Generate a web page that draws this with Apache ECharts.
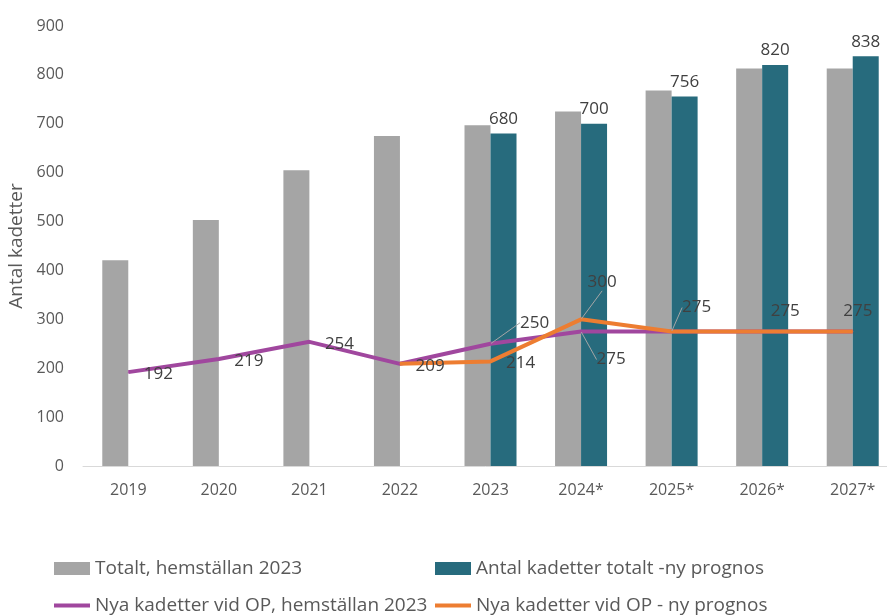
<!DOCTYPE html>
<html>
<head>
<meta charset="utf-8">
<script src="https://cdn.jsdelivr.net/npm/echarts@6/dist/echarts.min.js"></script>
<style>
  html, body { margin: 0; padding: 0; background: #fff; }
  #chart { width: 887px; height: 615px; }
</style>
</head>
<body>
<div id="chart"></div>
<script>
// kategorier och värden
var years = ['2019', '2020', '2021', '2022', '2023', '2024*', '2025*', '2026*', '2027*'];
var totaltHemstallan = [421, 503, 605, 675, 697, 725, 768, 813, 813];
var totaltNyPrognos = [null, null, null, null, 680, 700, 756, 820, 838];
var nyaHemstallan = [192, 219, 254, 209, 250, 275, 275, 275, 275];
var nyaNyPrognos = [null, null, null, 209, 214, 300, 275, 275, 275];
var yTicks = [0, 100, 200, 300, 400, 500, 600, 700, 800, 900];

var FONT = 'Open Sans';
var textColor = '#595959';
var labelColor = '#404040';

// etikettförflyttning (dx, dy) och vilka som har hänvisningslinje
var defaultMove = [10, 2];
var purpleMoves = { 4: [24, -21], 5: [10, 28] };
var purpleLeaders = [4, 5];
var orangeMoves = { 5: [1, -37], 6: [5, -24], 7: [3, -20], 8: [-15, -20] };
var orangeLeaders = [5, 6];

function lineData(values, hidden, leaders) {
    return values.map(function (v, i) {
        if (v == null) return null;
        var item = { value: v };
        if (hidden.indexOf(i) >= 0) item.label = { show: false };
        if (leaders.indexOf(i) >= 0) item.labelLine = { show: true };
        return item;
    });
}

function mover(moves) {
    return function (p) {
        var m = moves[p.dataIndex] || defaultMove;
        return { dx: m[0], dy: m[1] };
    };
}

var myChart = echarts.init(document.getElementById('chart'));

function legendItem(name, left, top, lineIcon) {
    return {
        data: [name],
        left: left,
        top: top,
        padding: 0,
        icon: 'rect',
        itemWidth: 36,
        itemHeight: lineIcon ? 4 : 13,
        textStyle: { color: textColor, fontSize: 19, fontFamily: FONT },
        selectedMode: false
    };
}

myChart.setOption({
    animation: false,
    textStyle: { fontFamily: FONT },
    grid: { left: 83, top: 26, width: 815, height: 440, outerBoundsMode: 'none', containLabel: false },
    legend: [
        legendItem('Totalt, hemställan 2023', 54, 559, false),
        legendItem('Antal kadetter totalt -ny prognos', 435, 559, false),
        legendItem('Nya kadetter vid OP, hemställan 2023', 54, 596, true),
        legendItem('Nya kadetter vid OP - ny prognos', 435, 596, true)
    ],
    xAxis: {
        type: 'category',
        data: years,
        axisLine: { lineStyle: { color: '#d9d9d9', width: 1 } },
        axisTick: { show: false },
        axisLabel: { color: textColor, fontSize: 16, fontFamily: FONT, margin: 16 }
    },
    yAxis: {
        type: 'value',
        min: yTicks[0],
        max: yTicks[yTicks.length - 1],
        interval: 100,
        name: 'Antal kadetter',
        nameLocation: 'middle',
        nameGap: 57,
        nameTextStyle: { color: textColor, fontSize: 19, fontFamily: FONT },
        axisLine: { show: false },
        axisTick: { show: false },
        splitLine: { show: false },
        axisLabel: { color: textColor, fontSize: 16, fontFamily: FONT, margin: 19 }
    },
    series: [
        {
            name: 'Totalt, hemställan 2023',
            type: 'bar',
            barWidth: 26,
            barGap: '0%',
            itemStyle: { color: '#a5a5a5' },
            data: totaltHemstallan
        },
        {
            name: 'Antal kadetter totalt -ny prognos',
            type: 'bar',
            barWidth: 26,
            barGap: '0%',
            itemStyle: { color: '#276b7d' },
            label: { show: true, position: 'top', color: labelColor, fontSize: 17, fontFamily: FONT, distance: 6 },
            data: totaltNyPrognos
        },
        {
            name: 'Nya kadetter vid OP, hemställan 2023',
            type: 'line',
            symbol: 'circle',
            symbolSize: 1,
            lineStyle: { color: '#a0479e', width: 4 },
            itemStyle: { color: '#a0479e' },
            label: { show: true, position: 'right', color: labelColor, fontSize: 17, fontFamily: FONT },
            labelLine: { show: false, lineStyle: { color: '#a6a6a6', width: 1 } },
            labelLayout: mover(purpleMoves),
            data: lineData(nyaHemstallan, [3, 6, 7, 8], purpleLeaders),
            z: 3
        },
        {
            name: 'Nya kadetter vid OP - ny prognos',
            type: 'line',
            symbol: 'circle',
            symbolSize: 1,
            lineStyle: { color: '#ed7d31', width: 4 },
            itemStyle: { color: '#ed7d31' },
            label: { show: true, position: 'right', color: labelColor, fontSize: 17, fontFamily: FONT },
            labelLine: { show: false, lineStyle: { color: '#a6a6a6', width: 1 } },
            labelLayout: mover(orangeMoves),
            data: lineData(nyaNyPrognos, [], orangeLeaders),
            z: 4
        }
    ]
});
</script>
</body>
</html>
